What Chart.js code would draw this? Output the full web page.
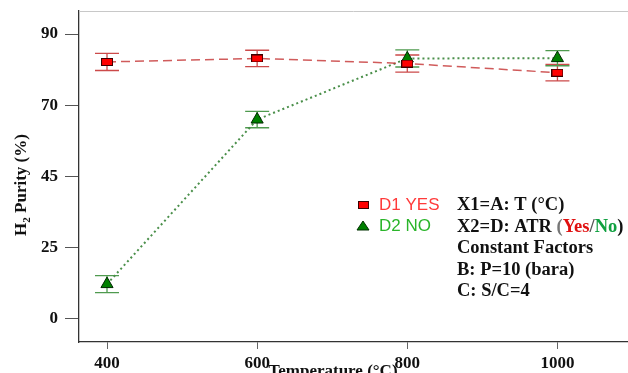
<!DOCTYPE html>
<html>
<head>
<meta charset="utf-8">
<script src="https://cdn.jsdelivr.net/npm/chart.js@4.4.1/dist/chart.umd.min.js"></script>
<style>
  html, body { margin: 0; padding: 0; background: #fff; }
  #wrap { width: 628px; height: 373px; }
</style>
</head>
<body>
<div id="wrap"><canvas id="purityChart" width="628" height="373"></canvas></div>
<script>
// values
const temps = [400, 600, 800, 1000];
const d1Yes = [81.2, 82.3, 80.7, 77.8];
const d2No = [11.0, 63.0, 82.3, 82.4];
const d1Err = [2.7, 2.6, 2.7, 2.6];
const d2Err = [2.7, 2.6, 2.7, 2.4];
const yTickVals = [0, 22.5, 45, 67.5, 90];
const yTickLabels = ['0', '25', '45', '70', '90'];
const xTickVals = [400, 600, 800, 1000];

const serif = "'Liberation Serif', 'Times New Roman', serif";
const sans = "'Liberation Sans', Arial, sans-serif";

// little red box marker (wider than tall)
function makeBox(w, h) {
  let c = document.createElement('canvas');
  c.width = w; c.height = h;
  let g = c.getContext('2d');
  g.fillStyle = '#ff0000';
  g.fillRect(0, 0, w, h);
  g.strokeStyle = '#3a0000';
  g.lineWidth = 1;
  g.strokeRect(0.5, 0.5, w - 1, h - 1);
  return c;
}
const redBox = makeBox(12, 8);

const errorBars = {
  id: 'errorBars',
  beforeDatasetsDraw(chart) {
    const ctx = chart.ctx;
    const xs = chart.scales.x, ys = chart.scales.y;
    const sets = [[d1Yes, d1Err, '#cc4a4a'], [d2No, d2Err, '#4f9a4f']];
    ctx.save();
    ctx.lineWidth = 1.3;
    sets.forEach(([vals, errs, col]) => {
      ctx.strokeStyle = col;
      vals.forEach((v, i) => {
        const x = xs.getPixelForValue(temps[i]);
        const y1 = ys.getPixelForValue(v + errs[i]);
        const y2 = ys.getPixelForValue(v - errs[i]);
        ctx.beginPath();
        ctx.moveTo(x, y1); ctx.lineTo(x, y2);
        ctx.moveTo(x - 12, y1); ctx.lineTo(x + 12, y1);
        ctx.moveTo(x - 12, y2); ctx.lineTo(x + 12, y2);
        ctx.stroke();
      });
    });
    ctx.restore();
  }
};

const decorations = {
  id: 'decorations',
  afterDraw(chart) {
    const ctx = chart.ctx;
    const a = chart.chartArea;
    ctx.save();
    // top frame line
    ctx.strokeStyle = '#c8c8c8';
    ctx.lineWidth = 1;
    ctx.beginPath();
    ctx.moveTo(a.left, a.top + 0.5); ctx.lineTo(chart.width, a.top + 0.5);
    ctx.stroke();

    // y axis title with subscript
    ctx.translate(22, 185);
    ctx.rotate(-Math.PI / 2);
    ctx.fillStyle = '#111';
    ctx.textBaseline = 'middle';
    const big = 'bold 17px ' + serif, small = 'bold 11px ' + serif;
    ctx.font = big; const wH = ctx.measureText('H').width;
    const rest = ' Purity (%)'; const wR = ctx.measureText(rest).width;
    ctx.font = small; const w2 = ctx.measureText('2').width;
    let sx = -(wH + w2 + wR) / 2;
    ctx.font = big; ctx.fillText('H', sx, 0);
    ctx.font = small; ctx.fillText('2', sx + wH, 5);
    ctx.font = big; ctx.fillText(rest, sx + wH + w2, 0);
    ctx.setTransform(1, 0, 0, 1, 0, 0);

    // x axis title, sits between the 600 and 800 labels
    ctx.font = 'bold 17px ' + serif;
    ctx.textAlign = 'center';
    ctx.textBaseline = 'alphabetic';
    ctx.fillText('Temperature (°C)', 333, 376);

    // legend
    ctx.textAlign = 'left';
    ctx.textBaseline = 'middle';
    ctx.drawImage(redBox, 358, 201, 11, 8);
    ctx.fillStyle = '#008000';
    ctx.strokeStyle = '#003000';
    ctx.beginPath();
    ctx.moveTo(363, 221); ctx.lineTo(369, 230); ctx.lineTo(357, 230); ctx.closePath();
    ctx.fill(); ctx.stroke();
    ctx.font = '17px ' + sans;
    ctx.fillStyle = '#ff3a3a';
    ctx.fillText('D1 YES', 379, 205);
    ctx.fillStyle = '#2ab52a';
    ctx.fillText('D2 NO', 379, 226);

    // factor notes
    ctx.font = 'bold 18.5px ' + serif;
    ctx.fillStyle = '#111';
    const nx = 457;
    ctx.fillText('X1=A: T (°C)', nx, 205);
    let px = nx;
    const parts = [['X2=D: ATR ', '#111'], ['(', '#777'], ['Yes', '#e01010'], ['/', '#555'], ['No', '#10a040'], [')', '#111']];
    parts.forEach(([t, c]) => {
      ctx.fillStyle = c;
      ctx.fillText(t, px, 227);
      px += ctx.measureText(t).width;
    });
    ctx.fillStyle = '#111';
    ctx.fillText('Constant Factors', nx, 248);
    ctx.fillText('B: P=10 (bara)', nx, 270);
    ctx.fillText('C: S/C=4', nx, 291);
    ctx.restore();
  }
};

new Chart(document.getElementById('purityChart'), {
  type: 'line',
  data: {
    datasets: [{
      label: 'D1 YES',
      data: temps.map((t, i) => ({ x: t, y: d1Yes[i] })),
      borderColor: 'rgba(196, 50, 50, 0.8)',
      borderWidth: 1.5,
      borderDash: [9, 5],
      pointStyle: redBox,
      tension: 0
    }, {
      label: 'D2 NO',
      data: temps.map((t, i) => ({ x: t, y: d2No[i] })),
      borderColor: '#4a8f4a',
      borderWidth: 2,
      borderDash: [2, 3],
      pointStyle: 'triangle',
      pointRadius: 7,
      pointBackgroundColor: '#008000',
      pointBorderColor: '#002800',
      pointBorderWidth: 1,
      tension: 0
    }]
  },
  options: {
    responsive: false,
    animation: false,
    layout: { autoPadding: false, padding: { top: 11, right: 0, left: 0, bottom: 0 } },
    plugins: { legend: { display: false }, tooltip: { enabled: false } },
    scales: {
      x: {
        type: 'linear',
        min: 362.7,
        max: 1094,
        afterBuildTicks: s => { s.ticks = xTickVals.map(v => ({ value: v })); },
        afterFit: s => { s.height = 31; s.paddingLeft = 0; s.paddingRight = 0; },
        grid: { display: true, drawOnChartArea: false, drawTicks: true, tickLength: 7, color: '#666' },
        border: { display: true, color: '#333', width: 1.3 },
        ticks: {
          color: '#111', padding: 4,
          font: { family: serif, size: 17, weight: 'bold' },
          callback: v => String(v)
        }
      },
      y: {
        min: -7.3,
        max: 97.3,
        afterBuildTicks: s => { s.ticks = yTickVals.map(v => ({ value: v })); },
        afterFit: s => { s.width = 79; s.paddingTop = 0; s.paddingBottom = 0; },
        grid: { display: true, drawOnChartArea: false, drawTicks: true, tickLength: 14, color: '#555' },
        border: { display: true, color: '#333', width: 1.3 },
        ticks: {
          color: '#111', padding: 7,
          font: { family: serif, size: 17, weight: 'bold' },
          callback: (v, i) => yTickLabels[i]
        }
      }
    }
  },
  plugins: [errorBars, decorations]
});
</script>
</body>
</html>
